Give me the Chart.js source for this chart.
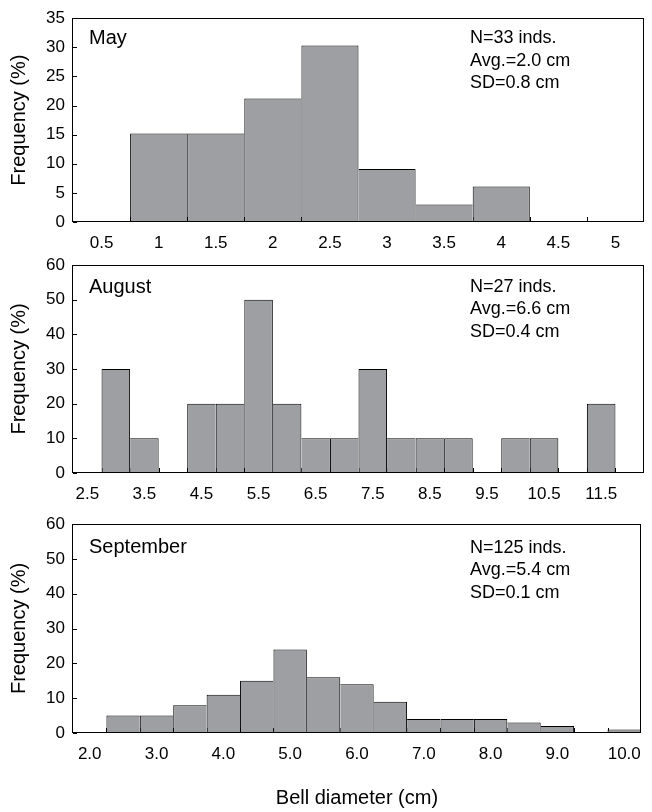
<!DOCTYPE html>
<html>
<head>
<meta charset="utf-8">
<script src="https://cdn.jsdelivr.net/npm/chart.js@4.4.1/dist/chart.umd.min.js"></script>
<style>
  html, body { margin: 0; padding: 0; background: #fff; }
  #wrap { position: relative; width: 652px; height: 812px; overflow: hidden; }
  canvas { position: absolute; left: 0; }
</style>
</head>
<body>
<div id="wrap">
  <canvas id="cMay" width="652" height="255" style="top:0px;width:652px;height:255px"></canvas>
  <canvas id="cAug" width="652" height="260" style="top:245px;width:652px;height:260px"></canvas>
  <canvas id="cSep" width="652" height="312" style="top:500px;width:652px;height:312px"></canvas>
</div>
<script>
// ---------- DATA ----------
// May: bin centres (cm) and frequencies (%)
const mayBins = [0.5, 1.0, 1.5, 2.0, 2.5, 3.0, 3.5, 4.0, 4.5, 5.0];
const mayFreq = [0, 15.2, 15.2, 21.2, 30.3, 9.1, 3.0, 6.1, 0, 0];
const mayTickValues = [0.5, 1, 1.5, 2, 2.5, 3, 3.5, 4, 4.5, 5];
const mayTickLabels = ['0.5', '1', '1.5', '2', '2.5', '3', '3.5', '4', '4.5', '5'];
const mayRange = [0.25, 5.25];
const mayYMax = 35, mayYStep = 5;
const mayName = 'May';
const mayStats = ['N=33 inds.', 'Avg.=2.0 cm', 'SD=0.8 cm'];

// August
const augBins = [2.5, 3.0, 3.5, 4.0, 4.5, 5.0, 5.5, 6.0, 6.5, 7.0, 7.5, 8.0, 8.5, 9.0, 9.5, 10.0, 10.5, 11.0, 11.5, 12.0];
const augFreq = [0, 30, 10, 0, 20, 20, 50, 20, 10, 10, 30, 10, 10, 10, 0, 10, 10, 0, 20, 0];
const augTickValues = [2.5, 3.5, 4.5, 5.5, 6.5, 7.5, 8.5, 9.5, 10.5, 11.5];
const augTickLabels = ['2.5', '3.5', '4.5', '5.5', '6.5', '7.5', '8.5', '9.5', '10.5', '11.5'];
const augRange = [2.25, 12.25];
const augYMax = 60, augYStep = 10;
const augName = 'August';
const augStats = ['N=27 inds.', 'Avg.=6.6 cm', 'SD=0.4 cm'];

// September
const sepBins = [2.0, 2.5, 3.0, 3.5, 4.0, 4.5, 5.0, 5.5, 6.0, 6.5, 7.0, 7.5, 8.0, 8.5, 9.0, 9.5, 10.0];
const sepFreq = [0, 5, 5, 8, 11, 15, 24, 16, 14, 9, 4, 4, 4, 3, 2, 0, 1];
const sepTickValues = [2, 3, 4, 5, 6, 7, 8, 9, 10];
const sepTickLabels = ['2.0', '3.0', '4.0', '5.0', '6.0', '7.0', '8.0', '9.0', '10.0'];
const sepRange = [1.75, 10.25];
const sepYMax = 60, sepYStep = 10;
const sepName = 'September';
const sepStats = ['N=125 inds.', 'Avg.=5.4 cm', 'SD=0.1 cm'];

const yTitle = 'Frequency (%)';
const xTitle = 'Bell diameter (cm)';

// ---------- STYLE ----------
const FONT = '"Liberation Sans", Arial, sans-serif';
const BAR_FILL = 'rgb(157,159,162)';

const decor = {
  id: 'decor',
  beforeDatasetsDraw(chart, args, o) {
    const { ctx, chartArea: a, scales: { x, y } } = chart;
    ctx.save();
    ctx.strokeStyle = '#000';
    ctx.lineWidth = 1;
    ctx.beginPath();
    y.ticks.forEach(t => {
      const py = Math.round(y.getPixelForValue(t.value)) + 0.5;
      ctx.moveTo(a.left, py); ctx.lineTo(a.left + 4, py);
    });
    o.edges.forEach(v => {
      const px = Math.round(x.getPixelForValue(v)) + 0.5;
      ctx.moveTo(px, a.bottom); ctx.lineTo(px, a.bottom - 5);
    });
    ctx.stroke();
    ctx.restore();
  },
  afterDatasetsDraw(chart, args, o) {
    const { ctx, chartArea: a } = chart;
    ctx.save();
    ctx.strokeStyle = '#000';
    ctx.lineWidth = 1;
    ctx.strokeRect(Math.round(a.left) - 0.5, Math.round(a.top) + 0.5,
                   Math.round(a.right - a.left), Math.round(a.bottom - a.top) - 1);
    ctx.fillStyle = '#000';
    ctx.textBaseline = 'middle';
    ctx.textAlign = 'left';
    ctx.font = '20px ' + FONT;
    ctx.fillText(o.name, 89, a.top + o.nameOffset);
    ctx.font = '18px ' + FONT;
    o.stats.forEach((s, i) => ctx.fillText(s, 470, a.top + o.statsOffset + i * 22.5));
    ctx.restore();
  }
};

function makePanel(id, bins, freq, tickValues, tickLabels, range, yMax, yStep, name, stats, lay) {
  const data = bins.map((b, i) => ({ x: b, y: freq[i] > 0 ? freq[i] : null }));
  const edges = bins.slice(1).map((b, i) => (bins[i] + b) / 2);
  const bw = (c) => {
    if (c.type !== 'data') return 1;
    const i = c.dataIndex;
    const cur = freq[i] || 0, prev = i > 0 ? (freq[i - 1] || 0) : 0, next = freq[i + 1] || 0;
    return { top: 1, bottom: 0, left: prev <= cur ? 1 : 0, right: next < cur ? 1 : 0 };
  };
  return new Chart(document.getElementById(id), {
    type: 'bar',
    data: {
      datasets: [{
        data,
        backgroundColor: BAR_FILL,
        borderColor: '#000',
        borderWidth: bw,
        borderSkipped: false,
        inflateAmount: 0,
        barPercentage: 1,
        categoryPercentage: 1,
        grouped: false
      }]
    },
    options: {
      responsive: false,
      maintainAspectRatio: false,
      animation: false,
      events: [],
      layout: { padding: { top: lay.top, right: 8, left: 0, bottom: 0 } },
      plugins: {
        legend: { display: false },
        tooltip: { enabled: false },
        decor: { name, stats, edges, nameOffset: lay.nameOffset, statsOffset: lay.statsOffset }
      },
      scales: {
        x: {
          type: 'linear',
          offset: false,
          min: range[0],
          max: range[1],
          grid: { display: false, drawTicks: false },
          border: { display: false },
          afterBuildTicks: (s) => { s.ticks = tickValues.map(v => ({ value: v })); },
          afterFit: (s) => { s.height = lay.xHeight; },
          ticks: {
            autoSkip: false,
            maxRotation: 0,
            minRotation: 0,
            padding: 11,
            color: '#000',
            font: { family: FONT, size: 17 },
            callback: (v, i) => tickLabels[i]
          },
          title: lay.xTitle ? {
            display: true, text: xTitle, color: '#000',
            font: { family: FONT, size: 20 }, padding: { top: 0, bottom: 2 }
          } : { display: false }
        },
        y: {
          min: 0,
          max: yMax,
          grid: { display: false, drawTicks: false },
          border: { display: false },
          afterFit: (s) => { s.width = 73; },
          ticks: {
            stepSize: yStep,
            padding: 8,
            color: '#000',
            font: { family: FONT, size: 17 }
          },
          title: {
            display: true, text: yTitle, color: '#000',
            font: { family: FONT, size: 20 }, padding: { top: 7, bottom: 0 }
          }
        }
      }
    },
    plugins: [decor]
  });
}

makePanel('cMay', mayBins, mayFreq, mayTickValues, mayTickLabels, mayRange, mayYMax, mayYStep, mayName, mayStats,
  { top: 12, xHeight: 33, nameOffset: 20, statsOffset: 20, xTitle: false });
makePanel('cAug', augBins, augFreq, augTickValues, augTickLabels, augRange, augYMax, augYStep, augName, augStats,
  { top: 20, xHeight: 32, nameOffset: 22, statsOffset: 22, xTitle: false });
makePanel('cSep', sepBins, sepFreq, sepTickValues, sepTickLabels, sepRange, sepYMax, sepYStep, sepName, sepStats,
  { top: 24, xHeight: 79, nameOffset: 23, statsOffset: 24, xTitle: true });
</script>
</body>
</html>
